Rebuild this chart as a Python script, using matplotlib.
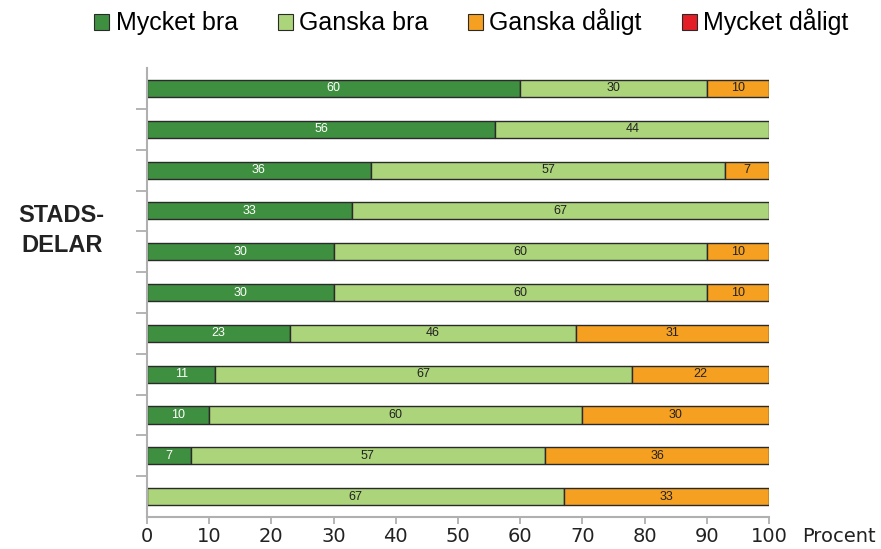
import numpy as np
import matplotlib.pyplot as plt
from matplotlib.patches import Patch

# Andel per stadsdel (procent), uppifrån och ned
serier = ['Mycket bra', 'Ganska bra', 'Ganska dåligt', 'Mycket dåligt']
mycket_bra = [60, 56, 36, 33, 30, 30, 23, 11, 10, 7, 0]
ganska_bra = [30, 44, 57, 67, 60, 60, 46, 67, 60, 57, 67]
ganska_daligt = [10, 0, 7, 0, 10, 10, 31, 22, 30, 36, 33]
mycket_daligt = [0, 0, 0, 0, 0, 0, 0, 0, 0, 0, 0]
xticks = [0, 10, 20, 30, 40, 50, 60, 70, 80, 90, 100]

farger = ['#3f8f40', '#acd47a', '#f5a020', '#e41e26']
textfarg = ['white', '#222222', '#222222', 'white']

fig = plt.figure(figsize=(8.81, 5.49), dpi=100)
ax = fig.add_axes([0.1669, 0.0583, 0.7060, 0.8177])

data = [mycket_bra, ganska_bra, ganska_daligt, mycket_daligt]
y = np.arange(len(mycket_bra))
left = np.zeros(len(y))
for vals, col, tc in zip(data, farger, textfarg):
    vals = np.array(vals, dtype=float)
    for i in range(len(y)):
        if vals[i] > 0:
            ax.barh(y[i], vals[i], left=left[i], height=0.42, color=col,
                    edgecolor='#2a2a2a', linewidth=1.0)
            ax.text(left[i] + vals[i] / 2, y[i], f'{int(vals[i])}', ha='center',
                    va='center', fontsize=9, color=tc, family='Liberation Sans')
    left += vals

ax.set_xlim(0, 100)
ax.set_ylim(len(y) - 0.5, -0.5)
ax.set_xticks(xticks)
ax.set_xticklabels([str(t) for t in xticks], fontsize=14, color='#222222')
ax.set_yticks(np.arange(len(y) - 1) + 0.5)
ax.set_yticklabels([])
ax.tick_params(axis='y', color='#a8a8a8', length=8, width=1.2)
ax.tick_params(axis='x', color='#a8a8a8', length=5, width=1.2, pad=2)
for s in ['top', 'right']:
    ax.spines[s].set_visible(False)
for s in ['left', 'bottom']:
    ax.spines[s].set_color('#b0b0b0')
    ax.spines[s].set_linewidth(1.5)

fig.text(0.910, 0.040, 'Procent', fontsize=14, color='#222222', ha='left', va='top')
fig.text(0.070, 0.580, 'STADS-\nDELAR', fontsize=17, fontweight='bold', ha='center',
         va='center', linespacing=1.4, color='#222222', family='Liberation Sans')

handles = [Patch(facecolor=c, edgecolor='#2a2a2a', linewidth=0.8) for c in farger]
fig.legend(handles, serier, loc='upper center', bbox_to_anchor=(0.535, 1.025), ncol=4,
           frameon=False, prop={'family': 'Liberation Sans', 'size': 18},
           handlelength=0.6, handleheight=0.6, handletextpad=0.25, columnspacing=1.6)

fig.savefig('out.png', dpi=100)
